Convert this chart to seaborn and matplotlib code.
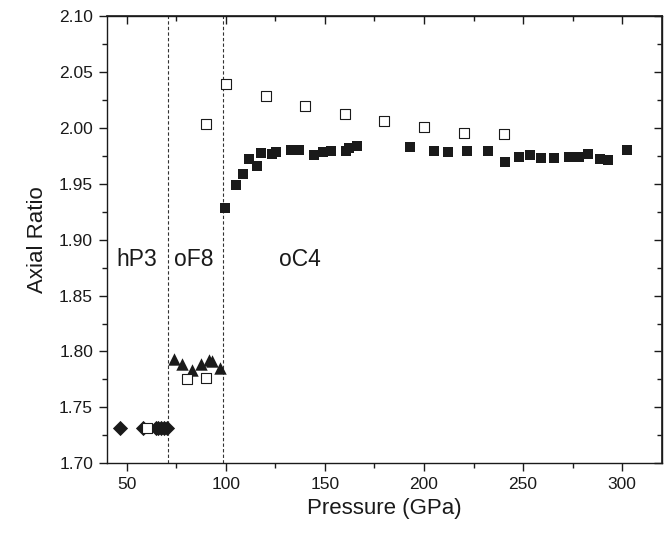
import matplotlib
matplotlib.use("Agg")
import matplotlib.pyplot as plt
import seaborn as sns
import pandas as pd
from matplotlib.ticker import MultipleLocator

sns.set_theme(style="ticks")
plt.rcParams['font.family'] = ['Liberation Sans', 'DejaVu Sans']

# hP3 (filled diamonds)
hp3_p = [46.6, 58.0, 64.5, 66.0, 67.5, 69.0, 70.2]
hp3_r = [1.732, 1.732, 1.732, 1.732, 1.732, 1.732, 1.732]

# oF8 (filled triangles)
of8_p = [73.8, 77.7, 82.8, 87.3, 91.5, 93.2, 97.1]
of8_r = [1.793, 1.789, 1.783, 1.7886, 1.7924, 1.7918, 1.785]

# open squares (low)
open_low_p = [60.0, 80.2, 90.0]
open_low_r = [1.732, 1.7751, 1.7766]

# open squares (high)
open_high_p = [90.0, 100.1, 120.2, 140.0, 160.0, 180.0, 200.0, 220.3, 240.2]
open_high_r = [2.0035, 2.039, 2.0286, 2.0196, 2.0122, 2.006, 2.001, 1.9957, 1.9943]

# oC4 (filled squares)
oc4_p = [99.6, 105.2, 108.8, 111.9, 115.9, 117.9, 123.2, 125.2, 132.8, 137.0,
         144.5, 148.9, 153.1, 160.5, 162.0, 166.1, 193.0, 205.2, 212.0, 221.6,
         232.3, 240.9, 248.1, 253.3, 259.2, 265.8, 273.3, 278.0, 282.9, 289.0,
         293.1, 302.3]
oc4_r = [1.928, 1.9487, 1.959, 1.972, 1.9657, 1.9775, 1.977, 1.9784, 1.980, 1.980,
         1.9755, 1.9784, 1.9796, 1.9794, 1.982, 1.9838, 1.9832, 1.979, 1.978, 1.9793,
         1.979, 1.9698, 1.974, 1.9755, 1.973, 1.973, 1.974, 1.974, 1.9764, 1.9722,
         1.9716, 1.980]

boundaries = [71.0, 98.4]
phase_labels = ["hP3", "oF8", "oC4"]
phase_label_x = [55.0, 83.6, 137.5]
phase_label_y = 1.882

fig = plt.figure(figsize=(6.72, 5.33), dpi=100)
ax = fig.add_axes([0.1592, 0.1308, 0.8255, 0.8392])

for x in boundaries:
    ax.axvline(x, color="#333333", lw=0.8, ls=(0, (3, 2)), zorder=1)

sns.scatterplot(x=hp3_p, y=hp3_r, marker="D", s=60, color="#1a1a1a",
                edgecolor="#1a1a1a", linewidth=0, ax=ax, zorder=3)
sns.scatterplot(x=open_low_p, y=open_low_r, marker="s", s=48, facecolor="white",
                edgecolor="#1a1a1a", linewidth=0.8, ax=ax, zorder=4)
sns.scatterplot(x=of8_p, y=of8_r, marker="^", s=80, color="#1a1a1a",
                edgecolor="#1a1a1a", linewidth=0, ax=ax, zorder=3)
sns.scatterplot(x=open_high_p, y=open_high_r, marker="s", s=48, facecolor="white",
                edgecolor="#1a1a1a", linewidth=0.8, ax=ax, zorder=3)
sns.scatterplot(x=oc4_p, y=oc4_r, marker="s", s=60, color="#1a1a1a",
                edgecolor="#1a1a1a", linewidth=0, ax=ax, zorder=3)

for t, x in zip(phase_labels, phase_label_x):
    ax.text(x, phase_label_y, t, fontsize=16.5, ha="center", va="center", color="#1a1a1a")

ax.set_xlim(40, 320)
ax.set_ylim(1.70, 2.10)
ax.xaxis.set_major_locator(MultipleLocator(50))
ax.xaxis.set_minor_locator(MultipleLocator(25))
ax.yaxis.set_major_locator(MultipleLocator(0.05))
ax.yaxis.set_minor_locator(MultipleLocator(0.025))
ax.yaxis.set_major_formatter(matplotlib.ticker.FormatStrFormatter("%.2f"))

ax.set_xlabel("Pressure (GPa)", fontsize=16, labelpad=4, color="#1a1a1a")
ax.set_ylabel("Axial Ratio", fontsize=16, labelpad=8, color="#1a1a1a")

for sp in ax.spines.values():
    sp.set_visible(True)
    sp.set_color("#1a1a1a")
    sp.set_linewidth(1.0)

ax.tick_params(which="major", direction="out", length=6, width=1, labelsize=12.5,
               colors="#1a1a1a", bottom=True, left=True, pad=4)
ax.tick_params(which="minor", direction="out", length=3.5, width=1,
               colors="#1a1a1a", bottom=True, left=True)

# inward ticks on top and right
axt = ax.secondary_xaxis("top")
axt.xaxis.set_major_locator(MultipleLocator(50))
axt.xaxis.set_minor_locator(MultipleLocator(25))
axt.tick_params(which="major", direction="in", length=6, width=1, labeltop=False, colors="#1a1a1a")
axt.tick_params(which="minor", direction="in", length=3.5, width=1, colors="#1a1a1a")
axr = ax.secondary_yaxis("right")
axr.yaxis.set_major_locator(MultipleLocator(0.05))
axr.yaxis.set_minor_locator(MultipleLocator(0.025))
axr.tick_params(which="major", direction="in", length=6, width=1, labelright=False, colors="#1a1a1a")
axr.tick_params(which="minor", direction="in", length=3.5, width=1, colors="#1a1a1a")

ax.grid(False)
fig.savefig("out.png", dpi=100)
